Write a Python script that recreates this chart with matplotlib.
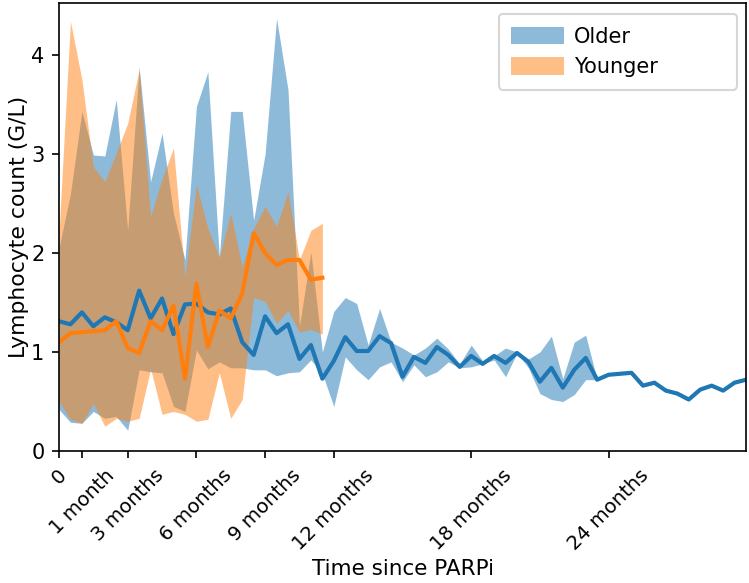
import numpy as np
import matplotlib
matplotlib.use("Agg")
import matplotlib.pyplot as plt

# months since PARPi start (half-month bins)
months_older = [0, 0.5, 1, 1.5, 2, 2.5, 3, 3.5, 4, 4.5, 5, 5.5, 6, 6.5, 7, 7.5,
                8, 8.5, 9, 9.5, 10, 10.5, 11, 11.5, 12, 12.5, 13, 13.5, 14, 14.5,
                15, 15.5, 16, 16.5, 17, 17.5, 18, 18.5, 19, 19.5, 20, 20.5, 21,
                21.5, 22, 22.5, 23, 23.5, 24, 24.5, 25, 25.5, 26, 26.5, 27, 27.5,
                28, 28.5, 29, 29.5, 30]
months_younger = months_older[:24]

older_mean = [1.31, 1.28, 1.40, 1.26, 1.35, 1.30, 1.22, 1.62, 1.34, 1.54, 1.18, 1.48,
              1.49, 1.40, 1.38, 1.44, 1.10, 0.97, 1.36, 1.19, 1.28, 0.93, 1.07, 0.73,
              0.91, 1.15, 1.01, 1.01, 1.16, 1.09, 0.75, 0.95, 0.89, 1.05, 0.97, 0.85,
              0.96, 0.88, 0.96, 0.89, 0.99, 0.90, 0.70, 0.84, 0.64, 0.82, 0.94, 0.72,
              0.77, 0.78, 0.79, 0.66, 0.69, 0.61, 0.58, 0.52, 0.62, 0.66, 0.61, 0.69,
              0.72]
older_upper = [2.05, 2.60, 3.43, 2.99, 2.98, 3.55, 2.23, 3.88, 2.72, 3.21, 2.40, 1.93,
               3.48, 3.83, 1.96, 3.43, 3.43, 2.33, 3.00, 4.37, 3.65, 1.26, 2.01, 1.00,
               1.41, 1.55, 1.49, 1.07, 1.44, 1.10, 1.04, 0.97, 1.04, 1.14, 1.03, 0.88,
               1.07, 0.91, 0.96, 1.04, 1.00, 0.93, 1.00, 1.16, 0.73, 1.10, 1.17, 0.72]
older_lower = [0.42, 0.29, 0.28, 0.40, 0.33, 0.35, 0.21, 0.82, 0.80, 0.79, 0.45, 0.40,
               1.02, 0.83, 0.90, 0.84, 0.84, 0.82, 0.82, 0.76, 0.79, 0.80, 0.92, 0.78,
               0.45, 0.95, 0.82, 0.72, 0.85, 0.90, 0.70, 0.87, 0.75, 0.80, 0.90, 0.84,
               0.85, 0.88, 0.92, 0.75, 0.99, 0.84, 0.58, 0.52, 0.50, 0.57, 0.72, 0.72]

younger_mean = [1.10, 1.19, 1.20, 1.21, 1.22, 1.31, 1.04, 0.99, 1.31, 1.22, 1.47, 0.73,
                1.69, 1.05, 1.42, 1.34, 1.59, 2.20, 2.00, 1.88, 1.93, 1.93, 1.73, 1.75]
younger_upper = [2.20, 4.34, 3.75, 2.87, 2.72, 3.01, 3.31, 3.85, 2.37, 2.75, 3.06, 1.76,
                 2.69, 2.25, 1.96, 2.40, 1.86, 2.25, 2.47, 2.27, 2.62, 1.93, 2.23, 2.30]
younger_lower = [0.50, 0.32, 0.28, 0.48, 0.25, 0.33, 0.30, 0.33, 0.83, 0.37, 0.40, 0.37,
                 0.30, 0.32, 0.79, 0.33, 0.52, 1.55, 1.51, 1.29, 1.42, 1.20, 1.23, 1.18]

tick_pos = [0, 1, 3, 6, 9, 12, 18, 24]
tick_lab = ['0', '1 month', '3 months', '6 months', '9 months',
            '12 months', '18 months', '24 months']

fig = plt.figure(figsize=(749/150, 583/150), dpi=150)
ax = fig.add_axes([59/749, 132/583, 687/749, 448/583])

n_band = len(older_upper)
ax.fill_between(months_older[:n_band], older_lower, older_upper,
                color='C0', alpha=0.5, lw=0, label='Older')
ax.fill_between(months_younger, younger_lower, younger_upper,
                color='C1', alpha=0.5, lw=0, label='Younger')
ax.plot(months_older, older_mean, color='C0', lw=2)
ax.plot(months_younger, younger_mean, color='C1', lw=2)

ax.set_xlim(0, 30)
ax.set_ylim(0, 4.525)
ax.set_xticks(tick_pos)
ax.set_xticklabels(tick_lab, rotation=45, fontsize=9.5)
ax.set_xlabel('Time since PARPi', fontsize=10.3)
ax.set_ylabel('Lymphocyte count (G/L)', fontsize=10.5)
ax.xaxis.set_label_coords(0.5, -0.241)
ax.yaxis.set_label_coords(-0.043, 0.5)
ax.legend(loc='upper left', bbox_to_anchor=(0.640, 0.975, 0.347, 0),
          mode='expand', borderaxespad=0, fontsize=10,
          handlelength=2.55, handleheight=0.9, handletextpad=0.45,
          borderpad=0.6)

fig.savefig('out.png', dpi=150)
